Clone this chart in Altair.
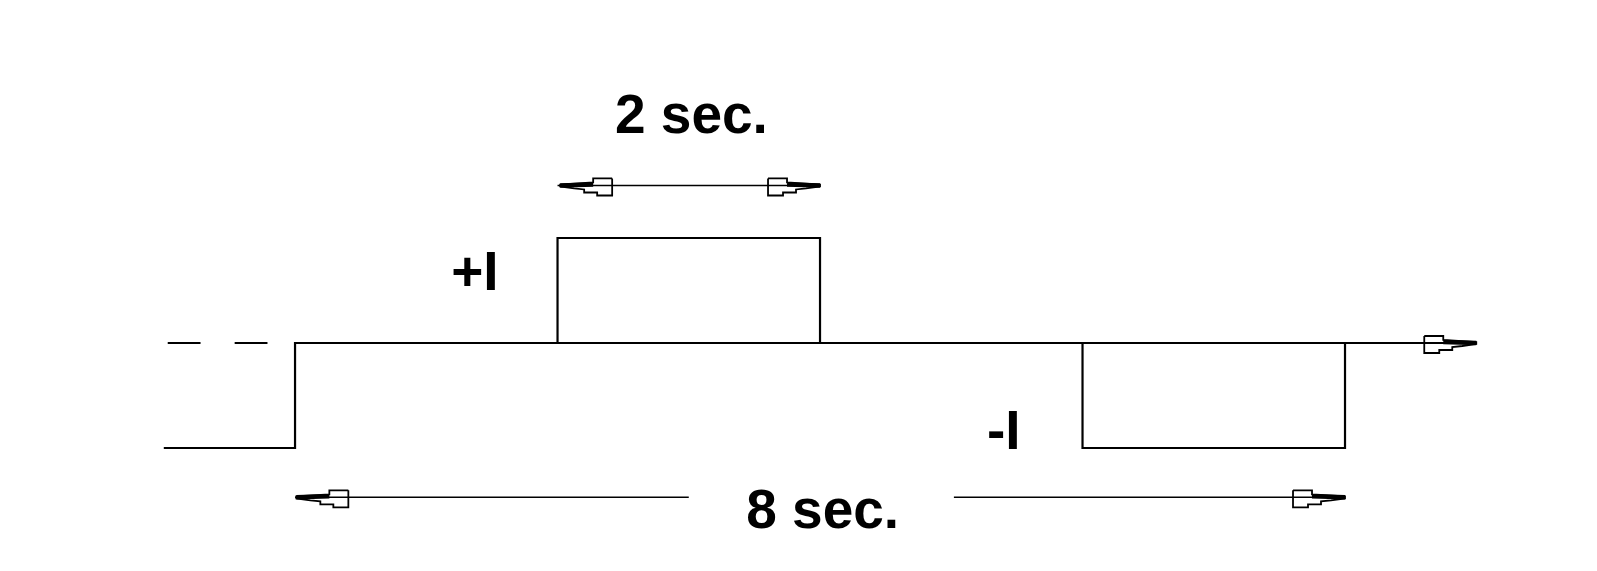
import altair as alt
import pandas as pd

# ---- data (time in seconds, level in units of I) ----
sig_t = [-1.0, 0.0, 0.0, 2.0, 2.0, 4.0, 4.0, 6.0, 6.0, 8.0, 8.0, 9.0]
sig_v = [-1, -1, 0, 0, 1, 1, 0, 0, -1, -1, 0, 0]

# baseline (time axis)
base_t = [0.0, 8.7]

dash_t0 = [-0.97, -0.46]
dash_t1 = [-0.72, -0.21]

# dimension arrows: (start, end, level)
dim_start = [2.0, 0.0, 5.02]
dim_end = [4.0, 3.0, 8.0]
dim_level = [1.5, -1.47, -1.47]

# arrow tips: time, level, direction
tip_t = [9.0, 2.02, 4.0, 0.01, 8.0]
tip_v = [0.0, 1.5, 1.5, -1.47, -1.47]
tip_dir = [1, -1, 1, -1, 1]

label_text = ["2 sec.", "8 sec.", "+I", "-I"]
label_t = [3.02, 4.02, 1.37, 5.4]
label_v = [2.16, -1.6, 0.67, -0.85]

PX_T = 131.25   # px per second
PX_V = 105.0    # px per unit

# open arrowhead outline (px offsets, tip at origin, pointing right, y down)
head_dx = [-52, -33, -33, 0, 0, -14, -24, -24, -37, -37, -52, -52]
head_dy = [-7, -7, -3, -1, 1, 3, 4, 7, 7, 10, 10, -7]

sig = pd.DataFrame({"t": sig_t, "v": sig_v, "o": range(len(sig_t))})
base = pd.DataFrame({"t": base_t, "v": [0, 0], "o": [0, 1]})

dash_rows = []
for i, (a, b) in enumerate(zip(dash_t0, dash_t1)):
    dash_rows += [{"t": a, "v": 0, "g": i, "o": 0}, {"t": b, "v": 0, "g": i, "o": 1}]
dashes = pd.DataFrame(dash_rows)

dim_rows = []
for i, (a, b, lv) in enumerate(zip(dim_start, dim_end, dim_level)):
    dim_rows += [{"t": a, "v": lv, "g": i, "o": 0}, {"t": b, "v": lv, "g": i, "o": 1}]
dims = pd.DataFrame(dim_rows)

head_rows = []
thick_rows = []
for i, (t, v, d) in enumerate(zip(tip_t, tip_v, tip_dir)):
    for j, (dx, dy) in enumerate(zip(head_dx, head_dy)):
        head_rows.append({"t": t + d * dx / PX_T, "v": v - dy / PX_V, "g": i, "o": j})
    thick_rows.append({"t": t + d * (-33) / PX_T, "v": v + 1 / PX_V, "g": i, "o": 0})
    thick_rows.append({"t": t, "v": v, "g": i, "o": 1})
heads = pd.DataFrame(head_rows)
thick = pd.DataFrame(thick_rows)

labels = pd.DataFrame({"text": label_text, "t": label_t, "v": label_v})

xs = alt.Scale(domain=[-2.187, 9.859], nice=False, zero=False)
ys = alt.Scale(domain=[-2.095, 3.19], nice=False, zero=False)
X = alt.X("t:Q", scale=xs, axis=None)
Y = alt.Y("v:Q", scale=ys, axis=None)

signal = alt.Chart(sig).mark_line(color="black", strokeWidth=2.2).encode(
    x=X, y=Y, order="o:Q")
base_l = alt.Chart(base).mark_line(color="black", strokeWidth=2.2).encode(
    x=X, y=Y, order="o:Q")
dash_l = alt.Chart(dashes).mark_line(color="black", strokeWidth=2.2).encode(
    x=X, y=Y, detail="g:N", order="o:Q")
dim_l = alt.Chart(dims).mark_line(color="black", strokeWidth=1.5).encode(
    x=X, y=Y, detail="g:N", order="o:Q")
head_l = alt.Chart(heads).mark_line(color="black", strokeWidth=1.8).encode(
    x=X, y=Y, detail="g:N", order="o:Q")
thick_l = alt.Chart(thick).mark_line(color="black", strokeWidth=4.5).encode(
    x=X, y=Y, detail="g:N", order="o:Q")
text_l = alt.Chart(labels).mark_text(
    font="Liberation Sans", fontWeight="bold", fontSize=55, color="black",
    align="center", baseline="middle").encode(x=X, y=Y, text="text:N")

chart = alt.layer(signal, base_l, dash_l, dim_l, head_l, thick_l, text_l).properties(
    width=1581, height=555, padding=0, background="white"
).configure_view(stroke=None)

chart.save("out.html", embed_options={"renderer": "svg", "actions": False})
